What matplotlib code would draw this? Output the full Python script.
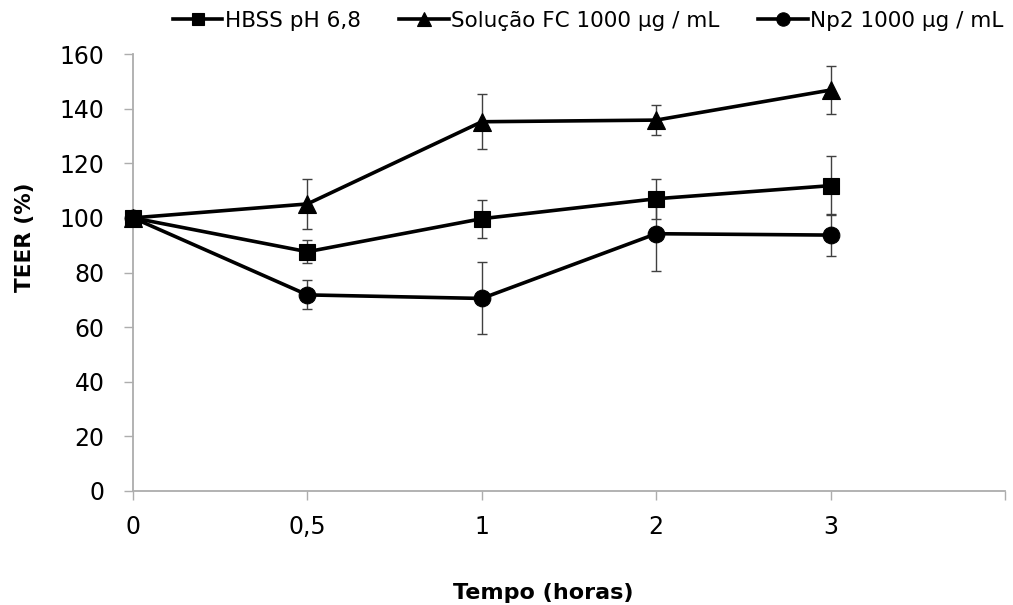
import matplotlib
matplotlib.use("Agg")
import matplotlib.pyplot as plt
import numpy as np

# Time points (hours) and TEER measurements (% of initial)
tempo_labels = ["0", "0,5", "1", "2", "3"]
hbss = [100, 87.6, 99.7, 107.0, 111.8]
hbss_err = [0, 4.2, 6.9, 7.4, 10.7]
fc = [100, 105.1, 135.2, 135.8, 146.8]
fc_err = [0, 9.3, 10.0, 5.4, 8.8]
np2 = [100, 71.8, 70.5, 94.2, 93.7]
np2_err = [0, 5.3, 13.2, 13.6, 7.8]

series_names = ["HBSS pH 6,8", "Solução FC 1000 µg / mL", "Np2 1000 µg / mL"]
y_ticks = [0, 20, 40, 60, 80, 100, 120, 140, 160]

plt.rcParams["font.family"] = ["DejaVu Sans"]

W, H = 1013, 605
fig = plt.figure(figsize=(W / 100, H / 100), dpi=100)
ax = fig.add_axes([133 / W, 1 - 491 / H, (1005 - 133) / W, (491 - 54) / H])

x = np.arange(len(tempo_labels))
axis_grey = "#ADADAD"
err_grey = "#404040"

specs = [
    (hbss, hbss_err, "s", 11.5),
    (fc, fc_err, "^", 13),
    (np2, np2_err, "o", 12),
]
handles = []
for (vals, errs, mk, ms), name in zip(specs, series_names):
    ax.errorbar(x, vals, yerr=errs, fmt="none", ecolor=err_grey,
                elinewidth=1.0, capsize=3.6, capthick=1.0, zorder=2)
    (ln,) = ax.plot(x, vals, color="black", linewidth=2.6, marker=mk,
                    markersize=ms, markerfacecolor="black",
                    markeredgecolor="black", markeredgewidth=0.8,
                    zorder=3, label=name, clip_on=False)
    handles.append(ln)

ax.set_xlim(0, len(tempo_labels))
ax.set_ylim(0, 160)
ax.set_yticks(y_ticks)
ax.set_yticklabels([str(v) for v in y_ticks])
ax.set_xticks(np.arange(len(tempo_labels) + 1))
ax.set_xticklabels(tempo_labels + [""])

for side in ("top", "right"):
    ax.spines[side].set_visible(False)
for side in ("left", "bottom"):
    ax.spines[side].set_color(axis_grey)
    ax.spines[side].set_linewidth(1.3)

ax.tick_params(axis="both", which="major", direction="out", length=6.5,
               width=1.0, color=axis_grey, labelsize=17, labelcolor="black")
ax.tick_params(axis="y", pad=14)
ax.tick_params(axis="x", pad=11)

fig.text(25 / W, 1 - 237 / H, "TEER (%)", rotation=90, fontsize=15.5,
         fontweight="bold", ha="center", va="center")
fig.text(543 / W, 6 / H, "Tempo (horas)", fontsize=16,
         fontweight="bold", ha="center", va="baseline")

fig.legend(handles=handles, labels=series_names, loc="center",
           bbox_to_anchor=(588 / W, 1 - 21 / H), ncol=3, frameon=False,
           fontsize=15.5, handlelength=2.3, handletextpad=0.1,
           columnspacing=1.8, markerscale=0.8, borderaxespad=0)

fig.savefig("out.png", dpi=100)
